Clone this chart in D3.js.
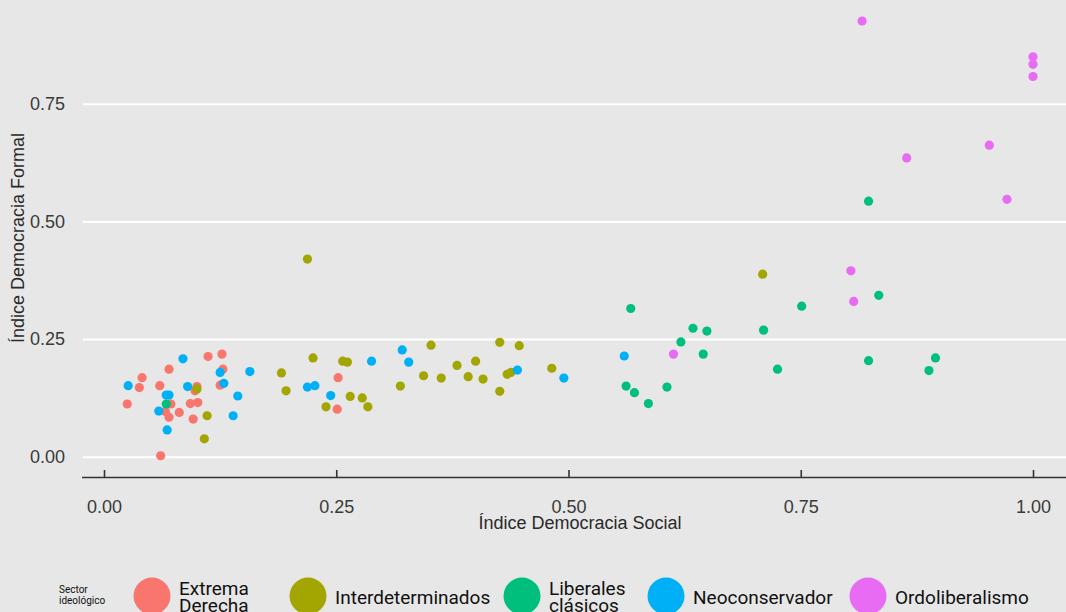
<!DOCTYPE html>
<html lang="es">
<head>
<meta charset="UTF-8">
<title>Índice Democracia Social vs Formal</title>
<script src="https://cdn.jsdelivr.net/npm/d3@7"></script>
<style>
    body { margin: 0; background: #e6e7e6; }
    svg { display: block; }
    .axis text { font-family: "Liberation Sans", Arial, sans-serif; font-size: 18px; fill: #3a3a3a; }
    .title { font-family: "Liberation Sans", Arial, sans-serif; font-size: 18px; fill: #2a2a2a; }
    .legend text { font-family: Roboto, "Noto Sans", sans-serif; fill: #111; }
</style>
</head>
<body>
<svg width="1066" height="612"></svg>
<script>

// categories and colours (ggplot default hue palette)
var categories = ["Extrema Derecha", "Interdeterminados", "Liberales clásicos", "Neoconservador", "Ordoliberalismo"];
var legendLabels = [["Extrema", "Derecha"], ["Interdeterminados"], ["Liberales", "clásicos"], ["Neoconservador"], ["Ordoliberalismo"]];
var colors = ["#F8766D", "#A3A500", "#00BF7D", "#00B0F6", "#E76BF3"];

var xTicks = [0, 0.25, 0.5, 0.75, 1];
var yTicks = [0, 0.25, 0.5, 0.75];

// [Índice Democracia Social, Índice Democracia Formal]
var extremaDerecha = [
    [0.112, 0.213], [0.127, 0.218], [0.070, 0.186], [0.128, 0.186], [0.041, 0.168],
    [0.038, 0.147], [0.060, 0.151], [0.100, 0.149], [0.098, 0.140], [0.125, 0.152],
    [0.025, 0.112], [0.072, 0.112], [0.093, 0.113], [0.101, 0.115], [0.066, 0.096],
    [0.070, 0.084], [0.081, 0.094], [0.096, 0.080], [0.061, 0.002], [0.252, 0.168],
    [0.251, 0.101]
];
var interdeterminados = [
    [0.191, 0.178], [0.100, 0.144], [0.111, 0.087], [0.108, 0.038], [0.219, 0.420],
    [0.196, 0.140], [0.225, 0.210], [0.257, 0.203], [0.262, 0.201], [0.239, 0.106],
    [0.265, 0.128], [0.278, 0.125], [0.284, 0.106], [0.319, 0.150], [0.352, 0.237],
    [0.344, 0.172], [0.363, 0.167], [0.380, 0.194], [0.400, 0.203], [0.392, 0.170],
    [0.408, 0.165], [0.426, 0.243], [0.447, 0.236], [0.426, 0.139], [0.434, 0.175],
    [0.438, 0.179], [0.482, 0.188], [0.709, 0.388]
];
var liberalesClasicos = [
    [0.067, 0.112], [0.567, 0.315], [0.562, 0.150], [0.571, 0.136], [0.586, 0.113],
    [0.606, 0.148], [0.621, 0.244], [0.634, 0.273], [0.649, 0.267], [0.645, 0.218],
    [0.710, 0.269], [0.725, 0.186], [0.751, 0.320], [0.834, 0.343], [0.823, 0.204],
    [0.895, 0.210], [0.888, 0.183], [0.823, 0.543]
];
var neoconservador = [
    [0.085, 0.208], [0.125, 0.179], [0.157, 0.181], [0.026, 0.151], [0.090, 0.149],
    [0.129, 0.156], [0.144, 0.129], [0.067, 0.131], [0.070, 0.131], [0.059, 0.097],
    [0.139, 0.087], [0.068, 0.057], [0.288, 0.203], [0.219, 0.148], [0.227, 0.151],
    [0.244, 0.130], [0.321, 0.227], [0.328, 0.201], [0.445, 0.184], [0.495, 0.167],
    [0.560, 0.214]
];
var ordoliberalismo = [
    [0.613, 0.218], [0.807, 0.330], [0.804, 0.395], [0.816, 0.926], [1.000, 0.850],
    [1.000, 0.834], [1.000, 0.808], [0.864, 0.635], [0.953, 0.662], [0.972, 0.547]
];

var series = [extremaDerecha, interdeterminados, liberalesClasicos, neoconservador, ordoliberalismo];

var svg = d3.select("svg");

var panelLeft = 83, panelRight = 1066;

var x = d3.scaleLinear().domain([0, 1]).range([104, 1033]);
var y = d3.scaleLinear().domain([0, 0.75]).range([456.7, 103.8]);

// horizontal grid + y labels
var yAxis = svg.append("g")
    .attr("class", "axis")
    .attr("transform", "translate(" + panelLeft + ",0)")
    .call(d3.axisLeft(y)
        .tickValues(yTicks)
        .tickFormat(d3.format(".2f"))
        .tickSizeInner(-(panelRight - panelLeft))
        .tickSizeOuter(0)
        .tickPadding(18));
yAxis.select(".domain").remove();
yAxis.selectAll(".tick line").attr("stroke", "#fff").attr("stroke-width", 2);

// points
var pts = [];
series.forEach(function(s, i) {
    s.forEach(function(p) { pts.push({ x: p[0], y: p[1], c: i }); });
});

svg.append("g")
    .selectAll("circle")
    .data(pts)
    .enter().append("circle")
    .attr("cx", function(d) { return x(d.x); })
    .attr("cy", function(d) { return y(d.y); })
    .attr("r", 4.6)
    .attr("fill", function(d) { return colors[d.c]; });

// bottom axis, ticks pointing up
var xAxis = svg.append("g")
    .attr("class", "axis")
    .attr("transform", "translate(0,477)")
    .call(d3.axisBottom(x)
        .tickValues(xTicks)
        .tickFormat(d3.format(".2f"))
        .tickSizeInner(-7)
        .tickSizeOuter(0)
        .tickPadding(23));
xAxis.select(".domain")
    .attr("d", "M" + (panelLeft - 1) + ",0.5H" + panelRight)
    .attr("stroke", "#333")
    .attr("stroke-width", 1.6);
xAxis.selectAll(".tick line").attr("stroke", "#333").attr("stroke-width", 1.6);

// axis titles
svg.append("text")
    .attr("class", "title")
    .attr("x", 580)
    .attr("y", 529)
    .attr("text-anchor", "middle")
    .text("Índice Democracia Social");

svg.append("text")
    .attr("class", "title")
    .attr("transform", "translate(24,238) rotate(-90)")
    .attr("text-anchor", "middle")
    .text("Índice Democracia Formal");

// legend
var legend = svg.append("g").attr("class", "legend");

legend.append("text")
    .attr("x", 59).attr("y", 593)
    .style("font-size", "10px")
    .text("Sector");
legend.append("text")
    .attr("x", 59).attr("y", 604)
    .style("font-size", "10px")
    .text("ideológico");

var legendX = [152, 308, 522, 666, 868];

var item = legend.selectAll("g.item")
    .data(categories)
    .enter().append("g")
    .attr("class", "item")
    .attr("transform", function(d, i) { return "translate(" + legendX[i] + ",596)"; });

item.append("circle")
    .attr("r", 18.5)
    .attr("fill", function(d, i) { return colors[i]; });

item.append("text")
    .attr("x", 27)
    .style("font-size", "19px")
    .each(function(d, i) {
        var t = d3.select(this);
        var lines = legendLabels[i];
        if (lines.length === 1) {
            t.attr("y", 8).text(lines[0]);
        } else {
            t.append("tspan").attr("x", 27).attr("y", -1).text(lines[0]);
            t.append("tspan").attr("x", 27).attr("y", 16).text(lines[1]);
        }
    });

</script>
</body>
</html>
